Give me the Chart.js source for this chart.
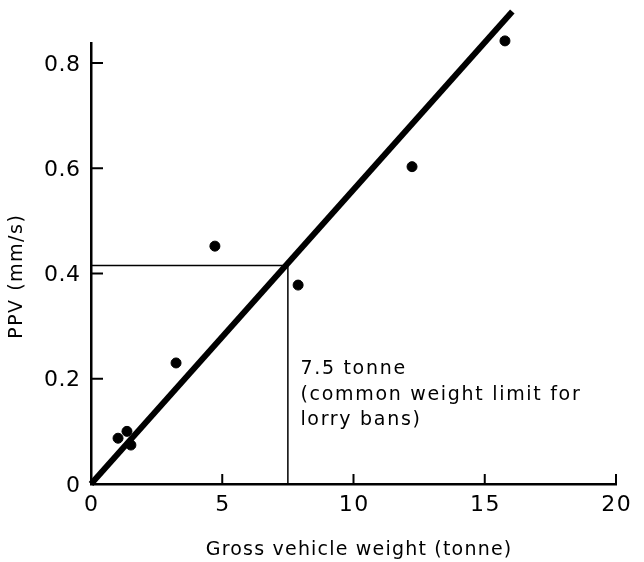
<!DOCTYPE html>
<html>
<head>
<meta charset="utf-8">
<script src="https://cdn.jsdelivr.net/npm/chart.js@4"></script>
<style>
  html, body { margin: 0; padding: 0; background: #fff; }
  canvas { display: block; }
</style>
</head>
<body>
<canvas id="ppv-chart" width="644" height="562"></canvas>
<script>
// measured vehicles: gross weight (tonne) vs PPV (mm/s)
const weights = [1.03, 1.37, 1.52, 3.24, 4.72, 7.89, 12.23, 15.77];
const ppvs = [0.087, 0.100, 0.074, 0.230, 0.452, 0.378, 0.603, 0.842];

// fitted line end points
const fitX = [0, 16.05];
const fitY = [0, 0.898];

// 7.5 tonne guide
const limitX = [0, 7.5, 7.5];
const limitY = [0.415, 0.415, 0];

const xTicks = [0, 5, 10, 15, 20];
const yTicks = [0, 0.2, 0.4, 0.6, 0.8];
const xTitle = 'Gross vehicle weight (tonne)';
const yTitle = 'PPV (mm/s)';
const noteLines = ['7.5 tonne', '(common weight limit for', 'lorry bans)'];

const FONT = '"DejaVu Sans", "Liberation Sans", sans-serif';

// draw text with letter spacing (the old typeset look is quite wide)
function spacedText(ctx, text, x, y, spacing, align) {
    ctx.letterSpacing = spacing + 'px';
    const w = ctx.measureText(text).width - spacing;
    let sx = x;
    if (align === 'center') sx = x - w / 2;
    if (align === 'right') sx = x - w;
    ctx.textAlign = 'left';
    ctx.fillText(text, sx, y);
}

// ticks pointing into the plot, tick labels, titles and the note
const axisDecor = {
    id: 'axisDecor',
    afterDatasetsDraw(chart) {
        const { ctx, scales: { x, y } } = chart;
        ctx.save();
        ctx.strokeStyle = '#000';
        ctx.lineWidth = 2;
        xTicks.slice(1).forEach(v => {
            const px = x.getPixelForValue(v);
            ctx.beginPath();
            ctx.moveTo(px, y.bottom);
            ctx.lineTo(px, y.bottom - 10);
            ctx.stroke();
        });
        yTicks.slice(1).forEach(v => {
            const py = y.getPixelForValue(v);
            ctx.beginPath();
            ctx.moveTo(x.left, py);
            ctx.lineTo(x.left + 12, py);
            ctx.stroke();
        });

        ctx.fillStyle = '#000';
        ctx.textBaseline = 'middle';

        ctx.font = '22px ' + FONT;
        xTicks.forEach(v => {
            spacedText(ctx, String(v), x.getPixelForValue(v), y.bottom + 21, 1.5, 'center');
        });
        yTicks.forEach(v => {
            const label = v === 0 ? '0' : v.toFixed(1);
            spacedText(ctx, label, x.left - 11, y.getPixelForValue(v) + 2, 0.5, 'right');
        });

        ctx.font = '19px ' + FONT;
        spacedText(ctx, xTitle, (x.left + x.right) / 2 + 5, 550, 1.2, 'center');

        ctx.save();
        ctx.translate(17, 277);
        ctx.rotate(-Math.PI / 2);
        spacedText(ctx, yTitle, 0, 0, 1.5, 'center');
        ctx.restore();

        const tx = x.getPixelForValue(7.9) + 2;
        let ty = y.getPixelForValue(0.218);
        noteLines.forEach(line => {
            spacedText(ctx, line, tx, ty, 1.7, 'left');
            ty += 25.5;
        });
        ctx.restore();
    }
};

new Chart(document.getElementById('ppv-chart'), {
    type: 'scatter',
    data: {
        datasets: [{
            label: 'fit',
            type: 'line',
            data: fitX.map((v, i) => ({ x: v, y: fitY[i] })),
            borderColor: '#000',
            borderWidth: 6,
            pointRadius: 0,
            clip: false,
            fill: false,
        }, {
            label: 'limit',
            type: 'line',
            data: limitX.map((v, i) => ({ x: v, y: limitY[i] })),
            borderColor: '#000',
            borderWidth: 1.5,
            pointRadius: 0,
            fill: false,
        }, {
            label: 'vehicles',
            data: weights.map((v, i) => ({ x: v, y: ppvs[i] })),
            backgroundColor: '#000',
            borderColor: '#000',
            pointRadius: 5,
            clip: false,
        }]
    },
    options: {
        responsive: false,
        animation: false,
        layout: { padding: { left: 0, right: 28, top: 43, bottom: 0 } },
        plugins: {
            legend: { display: false },
            tooltip: { enabled: false },
        },
        scales: {
            x: {
                type: 'linear',
                min: 0,
                max: 20,
                afterBuildTicks: scale => { scale.ticks = xTicks.map(v => ({ value: v })); },
                afterFit: scale => { scale.height = 78; },
                grid: { display: false },
                border: { display: true, color: '#000', width: 2.5 },
                ticks: { display: false },
            },
            y: {
                type: 'linear',
                min: 0,
                max: 0.838,
                afterBuildTicks: scale => { scale.ticks = yTicks.map(v => ({ value: v })); },
                afterFit: scale => { scale.width = 91; },
                grid: { display: false },
                border: { display: true, color: '#000', width: 2.5 },
                ticks: { display: false },
            }
        }
    },
    plugins: [axisDecor]
});
</script>
</body>
</html>
